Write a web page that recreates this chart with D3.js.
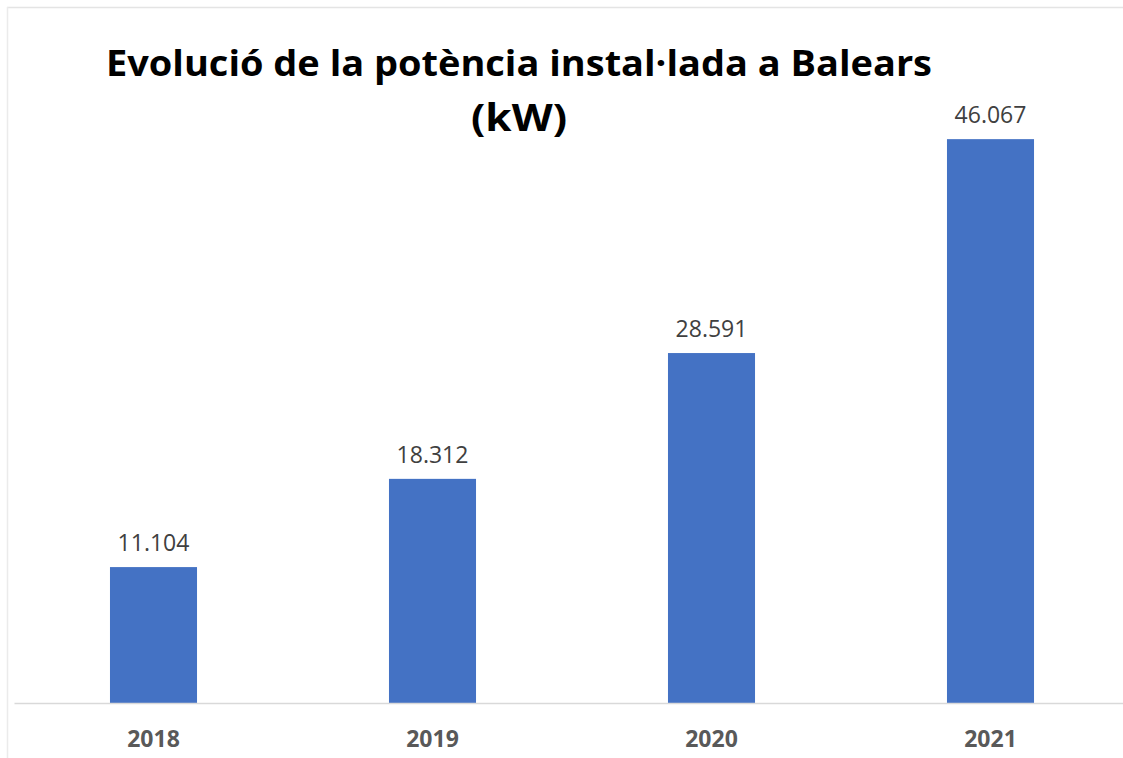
<!DOCTYPE html>
<html>
<head>
<meta charset="utf-8">
<script src="https://cdn.jsdelivr.net/npm/d3@7"></script>
<style>
  html, body { margin: 0; padding: 0; background: #fff; }
  svg { display: block; }
</style>
</head>
<body>
<div id="chart"></div>
<script>
// data
var years = ["2018", "2019", "2020", "2021"];
var power = [11104, 18312, 28591, 46067];
var titleLines = ["Evolució de la potència instal·lada a Balears", "(kW)"];

var W = 1123, H = 758;
var baseY = 703;

var svg = d3.select("#chart").append("svg")
    .attr("width", W)
    .attr("height", H);

// faint frame of the chart area (top and left edges only visible)
svg.append("line")
    .attr("x1", 7).attr("x2", W).attr("y1", 7.5).attr("y2", 7.5)
    .attr("stroke", "#e4e4e4").attr("stroke-width", 1.5);
svg.append("line")
    .attr("x1", 7.5).attr("x2", 7.5).attr("y1", 7).attr("y2", H)
    .attr("stroke", "#ebebeb").attr("stroke-width", 1.5);

var x = d3.scaleBand()
    .domain(years)
    .range([14, 1130])
    .paddingInner(0.688)
    .paddingOuter(0.344);

var y = d3.scaleLinear()
    .domain([0, 50000])
    .range([baseY, 91]);

var data = years.map(function(yr, i) { return {year: yr, value: power[i]}; });

// bars
svg.append("g").selectAll("rect")
    .data(data)
    .enter().append("rect")
    .attr("x", function(d) { return x(d.year); })
    .attr("y", function(d) { return y(d.value); })
    .attr("width", x.bandwidth())
    .attr("height", function(d) { return baseY - y(d.value); })
    .attr("fill", "#4472C4");

// value labels, Catalan thousands separator
var fmt = d3.formatLocale({decimal: ",", thousands: ".", grouping: [3], currency: ["", " €"]}).format(",d");

svg.append("g").selectAll("text")
    .data(data)
    .enter().append("text")
    .attr("x", function(d) { return x(d.year) + x.bandwidth() / 2; })
    .attr("y", function(d) { return y(d.value) - 16; })
    .attr("text-anchor", "middle")
    .attr("font-family", "'Open Sans', sans-serif")
    .attr("font-size", 23)
    .attr("fill", "#404040")
    .text(function(d) { return fmt(d.value); });

// category axis
var xAxis = svg.append("g")
    .attr("transform", "translate(0," + baseY + ")")
    .call(d3.axisBottom(x).tickSize(0).tickPadding(28).tickSizeOuter(0));

xAxis.select(".domain")
    .attr("stroke", "#d9d9d9")
    .attr("stroke-width", 1.5);

xAxis.selectAll(".tick text")
    .attr("font-family", "'Open Sans', sans-serif")
    .attr("font-size", 23)
    .attr("font-weight", "bold")
    .attr("fill", "#595959");

// title
svg.append("text")
    .attr("x", 519)
    .attr("y", 76)
    .attr("text-anchor", "middle")
    .attr("font-family", "'Open Sans', sans-serif")
    .attr("font-weight", "bold")
    .attr("font-size", 36)
    .attr("textLength", 826)
    .attr("lengthAdjust", "spacingAndGlyphs")
    .attr("fill", "#000")
    .text(titleLines[0]);

svg.append("text")
    .attr("x", 519)
    .attr("y", 131)
    .attr("text-anchor", "middle")
    .attr("font-family", "'Open Sans', sans-serif")
    .attr("font-weight", "bold")
    .attr("font-size", 38)
    .attr("textLength", 96)
    .attr("lengthAdjust", "spacingAndGlyphs")
    .attr("fill", "#000")
    .text(titleLines[1]);
</script>
</body>
</html>
